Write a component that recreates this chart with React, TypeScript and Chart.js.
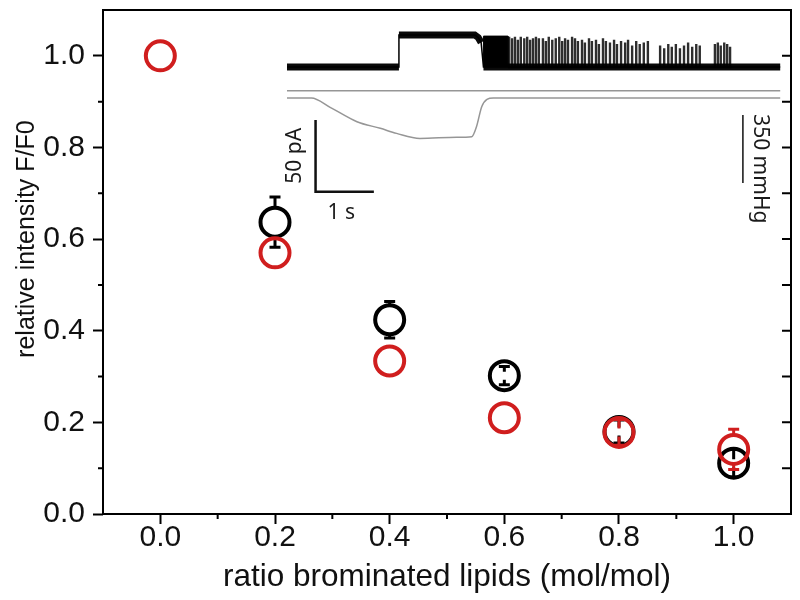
import { useEffect, useRef } from "react";
import { Chart, registerables } from "chart.js";

Chart.register(...registerables);

// ---------- main scatter data ----------
const blackRatio = [0.2, 0.4, 0.6, 0.8, 1.0];
const blackIntensity = [0.637, 0.424, 0.302, 0.18, 0.111];
const blackError = [0.055, 0.04, 0.02, 0.025, 0.03];

const redRatio = [0.0, 0.2, 0.4, 0.6, 0.8, 1.0];
const redIntensity = [1.0, 0.57, 0.334, 0.21, 0.178, 0.141];
const redError = [0, 0, 0, 0, 0.028, 0.044];

const xMajorTicks = [0, 0.2, 0.4, 0.6, 0.8, 1.0];
const xMinorTicks = [0.1, 0.3, 0.5, 0.7, 0.9];
const yMajorTicks = [0, 0.2, 0.4, 0.6, 0.8, 1.0];
const yMinorTicks = [0.1, 0.3, 0.5, 0.7, 0.9];

const yTitle = { text: "relative intensity F/F0", v: 0.6 };

// ---------- inset: current trace (s, pA) ----------
const currentTime = [0, 1.92, 1.92, 3.22, 3.28, 3.33, 3.37, 8.46];
const currentPA = [0, 0, 22.3, 22.3, 20.5, 17, 0, 0];

const burstTime = [3.37, 3.37, 3.79, 3.79];
const burstPA = [0, 21.5, 21.5, 0];

const spikeTime = [
  3.81, 3.86, 3.91, 3.96, 4.01, 4.07, 4.12, 4.17, 4.22, 4.27, 4.32, 4.39, 4.44, 4.49, 4.55, 4.61,
  4.67, 4.72, 4.77, 4.82, 4.89, 4.94, 4.99, 5.06, 5.11, 5.18, 5.23, 5.3, 5.35, 5.42, 5.47, 5.54,
  5.61, 5.66, 5.73, 5.8, 5.85, 5.92, 5.99, 6.05, 6.12, 6.19, 6.4, 6.47, 6.54, 6.6, 6.67, 6.74,
  6.81, 6.88, 6.95, 7.02, 7.08, 7.34, 7.39, 7.44, 7.5, 7.55, 7.6,
];
const spikePA = [
  21, 20, 21, 19, 21, 20, 21, 19, 20, 21, 20, 20, 18, 21, 19, 20, 21, 18, 20, 19, 21, 20, 18,
  19, 17, 20, 18, 19, 16, 20, 18, 17, 19, 16, 18, 17, 19, 15, 18, 16, 17, 18,
  15, 13, 16, 14, 16, 13, 15, 17, 14, 16, 15,
  16, 17, 15, 17, 16, 14,
];

// ---------- inset: pressure trace (s, mmHg) ----------
const pressureTime = [0, 0.42, 0.74, 1.2, 1.6, 1.88, 2.28, 2.91, 3.17, 3.25, 3.34, 3.43, 3.54, 8.46];
const pressureMmHg = [0, 0, -48, -122, -156, -182, -208, -202, -199, -148, -45, -7, 0, 0];
const refTime = [0, 8.46];
const refMmHg = [37.6, 37.6];

// ---------- inset: scale bars ----------
const currentBarTime = [0.49, 0.49, 1.49];
const currentBarPA = [-37, -87, -87];
const pressureBarTime = [7.82, 7.82];
const pressureBarMmHg = [-87.5, -437.5];

const labelCurrent = { text: "50 pA", t: 0.14, v: -62 };
const labelTime = { text: "1 s", t: 0.93, v: -102 };
const labelPressure = { text: "350 mmHg", t: 8.11, v: -364 };

const RED = "rgb(208,30,30)";
const BLACK = "#000";
const GRAY = "rgb(150,150,150)";
const FONT = "'Liberation Sans', Arial, sans-serif";
const INSET_FONT = "'Noto Sans', 'Open Sans', sans-serif";

const zip = (xs: number[], ys: number[]) => xs.map((x, i) => ({ x, y: ys[i] }));

const spikeData = (() => {
  const out: { x: number; y: number }[] = [];
  spikeTime.forEach((t, i) => {
    out.push({ x: t, y: 0 }, { x: t, y: spikePA[i] }, { x: t, y: 0 });
  });
  return out;
})();

const R = 14.5;
const BW = 4;

const errorBarPlugin = {
  id: "errorBars",
  afterDatasetDraw(chart: any, args: any) {
    const ds: any = chart.data.datasets[args.index];
    if (!ds.errors) return;
    const ctx = chart.ctx;
    const ys = chart.scales.y;
    const edge = R + BW / 2;
    ctx.save();
    ctx.strokeStyle = ds.borderColor;
    ctx.lineWidth = 3;
    ctx.lineCap = "butt";
    args.meta.data.forEach((pt: any, i: number) => {
      const e = ds.errors[i];
      if (!e) return;
      const v = ds.data[i].y;
      const c = ys.getPixelForValue(v);
      const t = ys.getPixelForValue(v + e);
      const b = ys.getPixelForValue(v - e);
      const x = pt.x;
      const dpx = c - t;
      const inner = dpx > edge ? edge - 1 : 4;
      ctx.beginPath();
      ctx.moveTo(x, t);
      ctx.lineTo(x, c - inner);
      ctx.moveTo(x, b);
      ctx.lineTo(x, c + inner);
      ctx.moveTo(x - 5.5, t);
      ctx.lineTo(x + 5.5, t);
      ctx.moveTo(x - 5.5, b);
      ctx.lineTo(x + 5.5, b);
      ctx.stroke();
    });
    ctx.restore();
  },
};

const framePlugin = {
  id: "frame",
  beforeDatasetsDraw(chart: any) {
    const { ctx, chartArea: a, scales } = chart;
    ctx.save();
    ctx.strokeStyle = BLACK;
    ctx.lineWidth = 2;
    ctx.strokeRect(a.left, a.top, a.right - a.left, a.bottom - a.top);
    ctx.beginPath();
    xMinorTicks.forEach((v) => {
      const px = scales.x.getPixelForValue(v);
      ctx.moveTo(px, a.bottom);
      ctx.lineTo(px, a.bottom + 5);
    });
    yMinorTicks.forEach((v) => {
      const py = scales.y.getPixelForValue(v);
      ctx.moveTo(a.left, py);
      ctx.lineTo(a.left - 5, py);
    });
    [...yMajorTicks, ...yMinorTicks].forEach((v) => {
      const py = scales.y.getPixelForValue(v);
      ctx.moveTo(a.right, py);
      ctx.lineTo(a.right - 9, py);
    });
    ctx.stroke();

    // y-axis title
    ctx.save();
    ctx.translate(27.5, scales.y.getPixelForValue(yTitle.v));
    ctx.rotate(-Math.PI / 2);
    ctx.fillStyle = "#111";
    ctx.font = `25px ${FONT}`;
    ctx.textAlign = "center";
    ctx.textBaseline = "middle";
    ctx.fillText(yTitle.text, 0, 0);
    ctx.restore();
    ctx.restore();
  },
};

const insetTextPlugin = {
  id: "insetText",
  afterDatasetsDraw(chart: any) {
    const { ctx, scales } = chart;
    const put = (lab: any, ys: any, rot: number) => {
      const x = scales.x2.getPixelForValue(lab.t);
      const y = ys.getPixelForValue(lab.v);
      ctx.save();
      ctx.translate(x, y);
      ctx.rotate(rot);
      ctx.fillStyle = "#1a1a1a";
      ctx.font = `21px ${INSET_FONT}`;
      ctx.textAlign = "center";
      ctx.textBaseline = "middle";
      ctx.fillText(lab.text, 0, 0);
      ctx.restore();
    };
    put(labelCurrent, scales.y2, -Math.PI / 2);
    put(labelTime, scales.y2, 0);
    put(labelPressure, scales.y3, Math.PI / 2);
  },
};

const steep = (c: any) =>
  Math.abs(c.p1.y - c.p0.y) > 3 * Math.abs(c.p1.x - c.p0.x);

export default function App() {
  const ref = useRef<HTMLCanvasElement>(null);

  useEffect(() => {
    if (!ref.current) return;
    const chart = new Chart(ref.current, {
      type: "scatter",
      data: {
        datasets: [
          {
            label: "red",
            data: zip(redRatio, redIntensity),
            errors: redError,
            borderColor: RED,
            backgroundColor: "rgba(0,0,0,0)",
            pointRadius: R,
            pointBorderWidth: BW,
            pointHoverRadius: R,
            order: 0,
            clip: false,
            xAxisID: "x",
            yAxisID: "y",
          } as any,
          {
            label: "black",
            data: zip(blackRatio, blackIntensity),
            errors: blackError,
            borderColor: BLACK,
            backgroundColor: "rgba(0,0,0,0)",
            pointRadius: R,
            pointBorderWidth: BW,
            pointHoverRadius: R,
            order: 1,
            clip: false,
            xAxisID: "x",
            yAxisID: "y",
          } as any,
          {
            label: "current band",
            data: zip(currentTime, currentPA),
            showLine: true,
            pointRadius: 0,
            borderWidth: 7,
            borderCapStyle: "butt",
            borderColor: "#0a0a0a",
            segment: { borderColor: (c: any) => (steep(c) ? "rgba(0,0,0,0)" : "#0a0a0a") },
            xAxisID: "x2",
            yAxisID: "y2",
            order: 5,
          } as any,
          {
            label: "current",
            data: zip(currentTime, currentPA),
            showLine: true,
            pointRadius: 0,
            borderWidth: 1.5,
            borderColor: BLACK,
            xAxisID: "x2",
            yAxisID: "y2",
            order: 4,
          } as any,
          {
            label: "burst",
            data: zip(burstTime, burstPA),
            showLine: true,
            pointRadius: 0,
            borderWidth: 1,
            borderColor: BLACK,
            backgroundColor: BLACK,
            fill: "origin",
            xAxisID: "x2",
            yAxisID: "y2",
            order: 4,
          } as any,
          {
            label: "spikes",
            data: spikeData,
            showLine: true,
            pointRadius: 0,
            borderWidth: 2.4,
            borderColor: "rgba(0,0,0,0.82)",
            xAxisID: "x2",
            yAxisID: "y2",
            order: 4,
          } as any,
          {
            label: "pressure ref",
            data: zip(refTime, refMmHg),
            showLine: true,
            pointRadius: 0,
            borderWidth: 1.5,
            borderColor: GRAY,
            xAxisID: "x2",
            yAxisID: "y3",
            order: 4,
          } as any,
          {
            label: "pressure",
            data: zip(pressureTime, pressureMmHg),
            showLine: true,
            pointRadius: 0,
            borderWidth: 1.5,
            borderColor: GRAY,
            cubicInterpolationMode: "monotone",
            xAxisID: "x2",
            yAxisID: "y3",
            order: 4,
          } as any,
          {
            label: "current bar",
            data: zip(currentBarTime, currentBarPA),
            showLine: true,
            pointRadius: 0,
            borderWidth: 2.5,
            borderColor: "#111",
            borderJoinStyle: "miter",
            xAxisID: "x2",
            yAxisID: "y2",
            order: 4,
          } as any,
          {
            label: "pressure bar",
            data: zip(pressureBarTime, pressureBarMmHg),
            showLine: true,
            pointRadius: 0,
            borderWidth: 1.5,
            borderColor: "#111",
            xAxisID: "x2",
            yAxisID: "y3",
            order: 4,
          } as any,
        ],
      },
      options: {
        animation: false,
        responsive: false,
        devicePixelRatio: 1,
        layout: { autoPadding: false, padding: { top: 10, right: 9, left: 0, bottom: 0 } },
        plugins: { legend: { display: false }, tooltip: { enabled: false } },
        scales: {
          x: {
            type: "linear",
            min: -0.1,
            max: 1.1,
            afterBuildTicks: (s: any) => {
              s.ticks = xMajorTicks.map((v) => ({ value: v }));
            },
            afterFit: (s: any) => {
              s.height = 86;
              s.paddingLeft = 0;
              s.paddingRight = 0;
              s.paddingTop = 0;
              s.paddingBottom = 0;
            },
            ticks: {
              callback: (v: any) => Number(v).toFixed(1),
              font: { family: FONT, size: 30 },
              color: "#111",
              padding: -4,
              maxRotation: 0,
              autoSkip: false,
            },
            grid: { drawOnChartArea: false, tickLength: 10, tickWidth: 2, tickColor: BLACK },
            border: { display: false },
            title: {
              display: true,
              text: "ratio brominated lipids (mol/mol)",
              font: { family: FONT, size: 31.5 },
              color: "#111",
              padding: { top: 0, bottom: 4 },
            },
          },
          y: {
            type: "linear",
            min: 0,
            max: 1.1,
            afterBuildTicks: (s: any) => {
              s.ticks = yMajorTicks.map((v) => ({ value: v }));
            },
            afterFit: (s: any) => {
              s.width = 103;
              s.paddingLeft = 0;
              s.paddingRight = 0;
              s.paddingTop = 0;
              s.paddingBottom = 0;
            },
            ticks: {
              callback: (v: any) => Number(v).toFixed(1),
              font: { family: FONT, size: 30 },
              color: "#111",
              padding: 8,
            },
            grid: { drawOnChartArea: false, tickLength: 10, tickWidth: 2, tickColor: BLACK },
            border: { display: false },
            title: { display: false },
          },
          x2: { type: "linear", display: false, min: -3.156, max: 8.645 },
          y2: { type: "linear", display: false, min: -311.7, max: 39.7 },
          y3: { type: "linear", display: false, min: -2141, max: 453 },
        },
      } as any,
      plugins: [framePlugin, errorBarPlugin, insetTextPlugin],
    });
    return () => chart.destroy();
  }, []);

  return (
    <div style={{ position: "fixed", left: 0, top: 0, width: 800, height: 600, background: "#fff" }}>
      <canvas ref={ref} width={800} height={600} style={{ width: 800, height: 600, display: "block" }} />
    </div>
  );
}
